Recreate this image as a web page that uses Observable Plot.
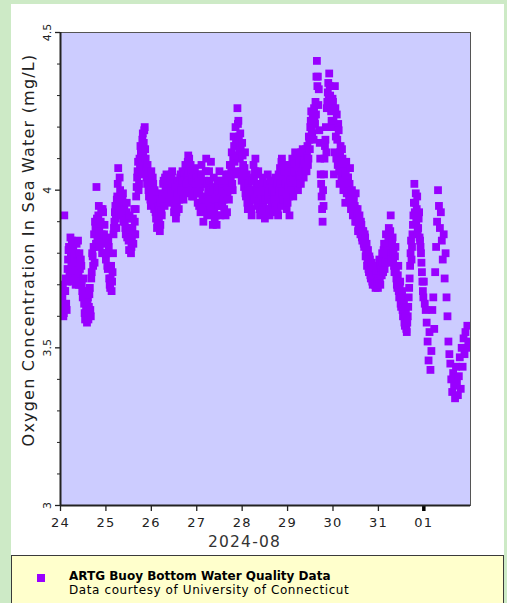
<!DOCTYPE html>
<html><head><meta charset="utf-8">
<script src="https://cdn.jsdelivr.net/npm/d3@7"></script>
<script src="https://cdn.jsdelivr.net/npm/@observablehq/plot@0.6"></script>
<style>
html,body{margin:0;padding:0;background:#cdeac6;}
body{width:507px;height:603px;overflow:hidden;position:relative;font-family:"DejaVu Sans",sans-serif;}
#panel{position:absolute;left:11px;top:4px;width:493px;height:599px;background:#fff;}
#chart{position:absolute;left:0;top:0;}
#legend{position:absolute;left:0;top:551px;width:491px;height:48px;background:#ffffcc;border:1px solid #3a3a3a;border-bottom:none;}
#legend .mk{position:absolute;left:25px;top:18px;width:8px;height:8px;background:#9900ff;}
#legend .t1{position:absolute;left:57px;top:15px;font-size:12px;font-weight:bold;color:#000;line-height:11px;white-space:nowrap;}
#legend .t2{position:absolute;left:57px;top:29px;font-size:12px;color:#000;line-height:11px;white-space:nowrap;letter-spacing:0.6px;}
.lsp text{letter-spacing:1.2px;}
</style></head>
<body>
<div id="panel"><div id="chart"></div>
<div id="legend"><div class="mk"></div><div class="t1">ARTG Buoy Bottom Water Quality Data</div><div class="t2">Data courtesy of University of Connecticut</div></div>
</div>
<script>
// Oxygen values (mg/L), one array per day starting at 00:00 UTC, every 30 min
const aug24 = [3.62,3.70,3.66,3.60, 3.92,3.68,3.64,3.71, 3.78,3.82,3.74,3.80, 3.84,3.76,3.72,3.79,
  3.70,3.83,3.77,3.74, 3.80,3.71,3.76,3.68, 3.72,3.64,3.59,3.62, 3.58,3.66,3.63,3.69,
  3.60,3.74,3.79,3.82, 3.77,3.88,4.01,3.85, 3.92,3.87,3.84,3.94, 3.80,3.93,3.86,3.83];
const aug25 = [3.78,3.85,3.75,3.82, 3.70,3.72,3.68,3.74, 3.86,3.90,3.95,3.88, 3.98,4.07,3.93,4.00,
  3.96,3.92,3.99,3.94, 3.90,3.86,3.96,3.88, 3.84,3.92,3.86,3.82, 3.88,3.83,3.94,3.86,
  3.98,4.04,4.09,4.02, 4.07,4.12,4.05,4.18, 4.15,4.20,4.10,4.04, 4.08,4.00,4.03,3.97];
const aug26 = [4.06,3.98,4.02,3.94, 3.99,3.91,3.88,3.95, 3.90,3.87,3.96,3.92, 3.99,4.03,3.95,4.01,
  4.05,3.98,4.02,3.96, 4.04,4.00,4.06,3.97, 3.93,4.01,3.91,3.96, 4.03,3.94,3.99,4.05,
  4.00,4.06,3.97,4.03, 4.08,3.99,4.04,4.11, 4.10,4.02,4.06,3.98, 4.04,4.00,4.07,3.99];
const aug27 = [4.02,3.96,4.05,3.99, 3.93,4.08,3.97,3.90, 4.03,3.95,4.10,3.92, 4.00,4.06,3.94,4.09,
  3.97,3.89,4.04,3.91, 3.99,3.89,4.03,3.95, 4.06,3.92,4.00,3.96, 4.02,3.94,3.98,4.05,
  3.93,4.01,3.97,4.08, 4.04,4.12,4.00,4.17, 4.09,4.20,4.05,4.26, 4.22,4.13,4.18,4.06];
const aug28 = [4.15,4.08,4.01,4.12, 3.98,4.05,3.94,4.02, 3.96,4.00,3.92,4.03, 4.08,3.97,4.10,4.01,
  3.95,4.06,3.99,3.92, 4.02,3.94,4.04,3.97, 3.91,4.00,3.93,4.05, 3.98,3.92,4.03,3.95,
  4.01,3.93,3.99,4.04, 3.96,4.02,3.92,4.00, 4.07,3.95,4.10,4.03, 3.97,4.08,4.02,3.94];
const aug29 = [3.96,4.05,3.92,4.08, 4.02,4.10,3.98,4.06, 4.12,4.03,4.08,4.00, 4.05,4.10,4.02,4.07,
  4.13,4.04,4.09,4.11, 4.06,4.14,4.10,4.16, 4.20,4.25,4.18,4.23, 4.26,4.21,4.24,4.41,
  4.36,4.32,4.15,4.05, 3.98,3.90,3.95,4.10, 4.16,4.12,4.28,4.34, 4.37,4.30,4.25,4.20];
const aug30 = [4.28,4.05,4.33,4.17, 4.24,4.08,4.19,4.02, 4.14,4.04,4.10,4.00, 4.06,3.96,4.09,4.02,
  4.04,3.97,4.07,3.94, 4.00,3.92,3.97,3.95, 3.99,3.90,3.94,3.88, 3.92,3.86,3.89,3.84,
  3.87,3.82,3.85,3.80, 3.76,3.81,3.74,3.78, 3.72,3.77,3.70,3.75, 3.73,3.69,3.76,3.71];
const aug31 = [3.72,3.78,3.70,3.75, 3.80,3.74,3.83,3.77, 3.86,3.79,3.82,3.88, 3.84,3.92,3.78,3.85,
  3.80,3.74,3.82,3.72, 3.69,3.76,3.66,3.71, 3.63,3.68,3.60,3.65, 3.57,3.62,3.55,3.60,
  3.66,3.72,3.80,3.78, 3.86,3.92,4.02,3.96, 3.90,3.98,3.88,3.93, 3.84,3.80,3.74,3.68];
const sep01 = [3.71,3.64,3.62,3.58, 3.52,3.46,3.55,3.43, 3.49,3.62,3.66,3.56, 3.74,3.82,3.90,4.00,
  3.95,3.88,3.93,3.84, 3.78,3.86,3.72,3.80, 3.66,3.60,3.52,3.48, 3.45,3.40,3.36,3.42,
  3.38,3.34,3.44,3.39, 3.35,3.41,3.47,3.37, 3.50,3.44,3.53,3.48, 3.55,3.50,3.57,3.52];
// Readings at quarter past / quarter to the hour (Aug 24 - Aug 31)
const aug24b = [3.66,3.64,3.70,3.61, 3.68,3.72,3.62,3.75, 3.81,3.73,3.85,3.77, 3.71,3.82,3.78,3.74,
  3.80,3.72,3.84,3.70, 3.75,3.78,3.70,3.66, 3.68,3.61,3.65,3.60, 3.64,3.59,3.67,3.62,
  3.72,3.80,3.76,3.86, 3.90,3.83,3.91,3.88, 3.95,3.82,3.90,3.86, 3.94,3.84,3.89,3.80];
const aug25b = [3.80,3.76,3.84,3.72, 3.69,3.76,3.71,3.80, 3.88,3.93,3.91,3.97, 4.02,3.95,4.04,3.97,
  3.92,3.97,3.90,3.95, 3.88,3.93,3.85,3.91, 3.81,3.87,3.80,3.85, 3.91,3.86,3.90,3.94,
  4.01,4.06,4.00,4.10, 4.14,4.08,4.16,4.11, 4.19,4.13,4.07,4.02, 4.05,3.98,4.01,3.95];
const aug26b = [4.01,4.04,3.96,4.00, 3.93,3.97,3.90,3.92, 3.94,3.89,3.93,3.97, 4.02,3.97,4.04,3.99,
  4.01,4.04,3.99,4.03, 3.98,4.05,4.02,3.99, 3.95,3.98,3.93,3.99, 4.01,3.97,4.04,4.01,
  4.03,3.99,4.05,4.01, 4.06,4.02,4.09,4.05, 4.03,4.08,4.00,4.03, 3.98,4.05,4.02,4.04];
const aug27b = [3.99,4.04,3.95,4.01, 4.05,3.95,4.02,3.94, 3.98,4.06,3.97,4.02, 3.96,4.03,3.99,3.93,
  3.95,4.01,3.94,3.97, 3.92,4.00,3.97,4.01, 3.98,4.03,3.95,4.00, 3.97,4.03,3.92,4.00,
  3.99,4.05,4.03,4.00, 4.07,4.02,4.10,4.14, 4.06,4.15,4.11,4.21, 4.17,4.10,4.14,4.03];
const aug28b = [4.11,4.04,4.07,3.99, 4.02,3.96,4.00,3.98, 4.03,3.94,4.00,3.97, 4.04,4.06,3.99,4.05,
  4.00,4.02,3.94,3.97, 3.99,4.01,3.96,3.93, 3.97,3.94,4.02,3.99, 3.94,4.01,3.97,4.00,
  3.96,4.03,3.97,3.95, 4.00,3.94,4.05,3.98, 4.02,4.09,3.99,4.05, 4.06,4.00,3.98,4.03];
const aug29b = [4.01,3.98,4.03,4.06, 4.00,4.07,4.04,4.09, 4.06,4.11,4.02,4.05, 4.09,4.04,4.12,4.06,
  4.08,4.12,4.06,4.13, 4.11,4.08,4.17,4.13, 4.22,4.19,4.24,4.16, 4.22,4.28,4.36,4.33,
  4.27,4.19,4.10,4.02, 3.94,4.00,4.05,4.14, 4.20,4.26,4.31,4.29, 4.33,4.26,4.22,4.29];
const aug30b = [4.22,4.12,4.26,4.10, 4.16,4.21,4.06,4.12, 4.08,4.13,4.03,4.07, 4.01,4.05,3.99,4.04,
  3.99,4.02,3.96,3.99, 3.94,3.98,3.93,3.90, 3.94,3.92,3.87,3.91, 3.88,3.90,3.85,3.87,
  3.83,3.86,3.79,3.83, 3.78,3.75,3.79,3.73, 3.75,3.71,3.74,3.72, 3.70,3.74,3.72,3.69];
const aug31b = [3.75,3.71,3.76,3.73, 3.77,3.81,3.75,3.80, 3.83,3.77,3.85,3.81, 3.87,3.80,3.83,3.78,
  3.76,3.79,3.75,3.70, 3.73,3.68,3.70,3.64, 3.66,3.62,3.63,3.58, 3.60,3.56,3.58,3.63,
  3.69,3.76,3.84,3.82, 3.89,3.96,3.93,3.99, 3.94,3.87,3.91,3.85, 3.82,3.77,3.71,3.66];
const days = [[2024,7,24,aug24],[2024,7,25,aug25],[2024,7,26,aug26],[2024,7,27,aug27],[2024,7,28,aug28],
  [2024,7,29,aug29],[2024,7,30,aug30],[2024,7,31,aug31],[2024,8,1,sep01]];
const daysB = [[2024,7,24,aug24b],[2024,7,25,aug25b],[2024,7,26,aug26b],[2024,7,27,aug27b],[2024,7,28,aug28b],
  [2024,7,29,aug29b],[2024,7,30,aug30b],[2024,7,31,aug31b]];
const yMajor = [3, 3.5, 4, 4.5];
const yMajorLabels = ["3", "3.5", "4", "4.5"];
const yMinor = [3.1,3.2,3.3,3.4,3.6,3.7,3.8,3.9,4.1,4.2,4.3,4.4];
const xTickDays = [[2024,7,24],[2024,7,25],[2024,7,26],[2024,7,27],[2024,7,28],[2024,7,29],[2024,7,30],[2024,7,31],[2024,8,1]];
const xTickLabels = ["24","25","26","27","28","29","30","31","01"];
const xUnitLabel = "2024-08";
const yTitle = "Oxygen Concentration In Sea Water (mg/L)";

const data = [];
for (const [Y,M,D,vals] of days) {
  const t0 = Date.UTC(Y,M,D);
  vals.forEach((v,i) => data.push({t: new Date(t0 + i*30*60*1000), v}));
}
for (const [Y,M,D,vals] of daysB) {
  const t0 = Date.UTC(Y,M,D,0,15);
  vals.forEach((v,i) => data.push({t: new Date(t0 + i*30*60*1000), v}));
}
data.sort((a,b) => a.t - b.t);
const xTicks = xTickDays.map(([Y,M,D]) => new Date(Date.UTC(Y,M,D)));
const labelOf = new Map(xTicks.map((d,i)=>[+d, xTickLabels[i]]));
const yLab = new Map(yMajor.map((d,i)=>[d, yMajorLabels[i]]));
const blank = () => "";

const chart = Plot.plot({
  width: 493, height: 551,
  marginLeft: 49, marginRight: 34, marginTop: 28, marginBottom: 50,
  style: {fontFamily: "DejaVu Sans", background: "transparent", overflow: "visible"},
  x: {type: "utc", domain: [new Date(Date.UTC(2024,7,24)), new Date(Date.UTC(2024,8,2,0,40))]},
  y: {domain: [3, 4.5]},
  marks: [
    Plot.frame({fill: "#ccccff"}),
    Plot.dot(data, {x: "t", y: "v", symbol: "square", r: 4.4, fill: "#9900ff", clip: true}),
    Plot.frame({stroke: "#555", strokeWidth: 1}),
    Plot.axisY({ticks: yMajor, tickSize: 5, tickFormat: blank, label: null, stroke: "#222", strokeWidth: 1.3}),
    Plot.axisY({ticks: yMinor, tickSize: 3, tickFormat: blank, label: null, stroke: "#222"}),
    Plot.text(yMajor, {y: d => d, text: d => yLab.get(d), frameAnchor: "left", textAnchor: "middle", dx: -13, rotate: -90, fontSize: 11, fill: "#222"}),
    Plot.text([yTitle], {text: d => d, frameAnchor: "left", textAnchor: "middle", dx: -32, dy: -19, rotate: -90, fontSize: 16, fill: "#222", className: "lsp"}),
    Plot.axisX({ticks: xTicks, tickSize: 6, tickPadding: 6, tickFormat: d => labelOf.get(+d), label: null, fontSize: 13, stroke: "#222", strokeWidth: 1.3, fill: "#222", className: "lsp"}),
    Plot.axisX({ticks: [xTicks[8]], tickSize: 6, tickFormat: blank, label: null, stroke: "#000", strokeWidth: 3.5}),
    Plot.ruleX([0], {x: () => xTicks[0], stroke: "#222", strokeWidth: 2}),
    Plot.ruleY([3], {stroke: "#222", strokeWidth: 2}),
    Plot.text([xUnitLabel], {text: d => d, frameAnchor: "bottom", dx: -21, dy: 41, fontSize: 15.5, fill: "#333", className: "lsp"})
  ]
});
document.getElementById("chart").appendChild(chart);
</script>
</body></html>
